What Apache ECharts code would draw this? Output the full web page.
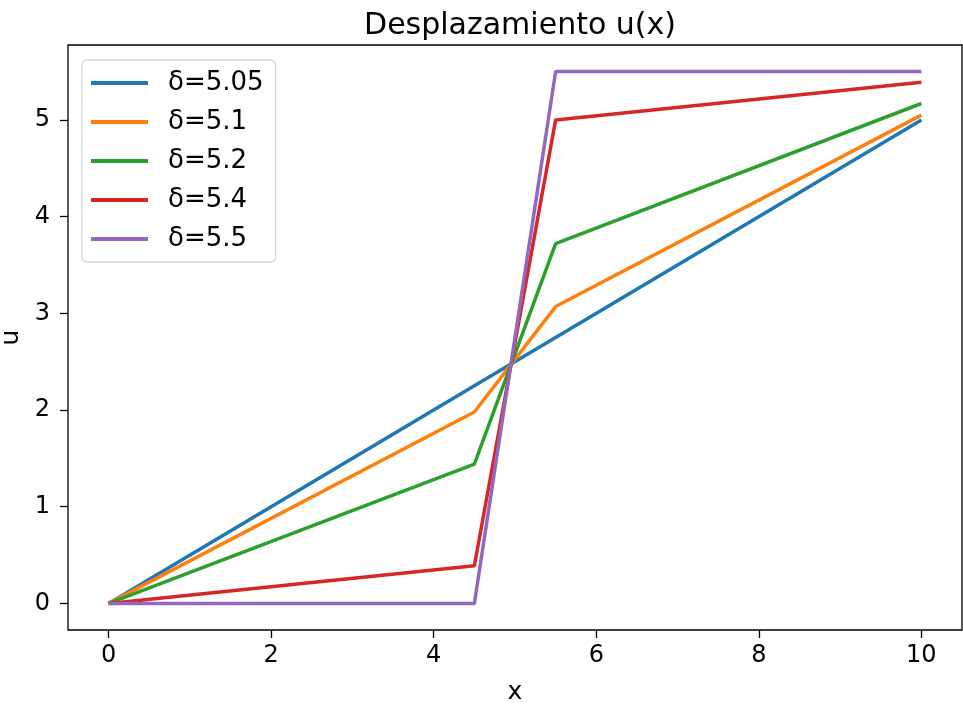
<!DOCTYPE html>
<html>
<head>
<meta charset="utf-8">
<script src="https://cdn.jsdelivr.net/npm/echarts@6/dist/echarts.min.js"></script>
<style>
  html, body { margin: 0; padding: 0; background: #fff; }
  #chart { width: 963px; height: 709px; }
</style>
</head>
<body>
<div id="chart"></div>
<script>
var xs = [0, 4.5, 5.5, 10];
var names = ['δ=5.05', 'δ=5.1', 'δ=5.2', 'δ=5.4', 'δ=5.5'];
var u505 = [0, 2.25, 2.75, 5.0];
var u51 = [0, 1.98, 3.07, 5.05];
var u52 = [0, 1.44, 3.72, 5.17];
var u54 = [0, 0.39, 5.0, 5.39];
var u55 = [0, 0, 5.5, 5.5];
var xTicks = [0, 2, 4, 6, 8, 10];
var yTicks = [0, 1, 2, 3, 4, 5];
var colors = ['#1f77b4', '#ff7f0e', '#2ca02c', '#d62728', '#9467bd'];

var myChart = echarts.init(document.getElementById('chart'));
var font = 'DejaVu Sans';

function pairs(ys) {
    return xs.map(function (x, i) { return [x, ys[i]]; });
}

var allU = [u505, u51, u52, u54, u55];

option = {
    animation: false,
    color: colors,
    textStyle: { fontFamily: font },
    title: {
        text: 'Desplazamiento u(x)',
        left: 515,
        top: 6,
        textAlign: 'center',
        textStyle: { fontFamily: font, fontSize: 30, fontWeight: 'normal', color: '#000' }
    },
    legend: {
        orient: 'vertical',
        left: 82,
        top: 60,
        padding: [10, 12, 10, 9],
        itemGap: 13,
        itemWidth: 57,
        itemHeight: 4,
        icon: 'rect',
        borderColor: '#d6d6d6',
        borderWidth: 1.3,
        borderRadius: 5,
        backgroundColor: 'rgba(255,255,255,0.8)',
        textStyle: { fontFamily: font, fontSize: 26, color: '#000', padding: [0, 0, 0, 15] },
        data: names
    },
    grid: {
        left: 68, right: 1, top: 45, bottom: 79,
        outerBoundsMode: 'none',
        containLabel: false,
        show: true, borderColor: '#000', borderWidth: 1.3
    },
    xAxis: {
        type: 'value',
        min: -0.5, max: 10.5,
        name: 'x',
        nameLocation: 'middle',
        nameGap: 50,
        nameTextStyle: { fontFamily: font, fontSize: 25, color: '#000' },
        splitLine: { show: false },
        axisLine: { show: false, onZero: false },
        axisTick: { show: true, length: 8, customValues: xTicks, lineStyle: { color: '#000', width: 1.3 } },
        axisLabel: { customValues: xTicks, fontFamily: font, fontSize: 24, color: '#000', margin: 14 }
    },
    yAxis: {
        type: 'value',
        min: -0.275, max: 5.775,
        name: 'u',
        nameLocation: 'middle',
        nameGap: 44,
        nameTextStyle: { fontFamily: font, fontSize: 25, color: '#000' },
        splitLine: { show: false },
        axisLine: { show: false, onZero: false },
        axisTick: { show: true, length: 8, customValues: yTicks, lineStyle: { color: '#000', width: 1.3 } },
        axisLabel: { customValues: yTicks, fontFamily: font, fontSize: 24, color: '#000', margin: 18 }
    },
    series: allU.map(function (ys, i) {
        return {
            name: names[i],
            type: 'line',
            data: pairs(ys),
            showSymbol: false,
            symbol: 'none',
            lineStyle: { width: 3.5, color: colors[i] },
            itemStyle: { color: colors[i] }
        };
    })
};

myChart.setOption(option);
</script>
</body>
</html>
